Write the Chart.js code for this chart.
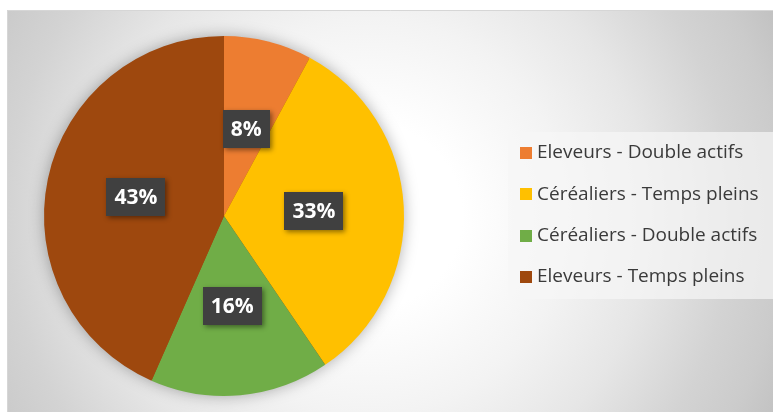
<!DOCTYPE html>
<html>
<head>
<meta charset="utf-8">
<script src="https://cdn.jsdelivr.net/npm/chart.js@4.4.1/dist/chart.umd.min.js"></script>
<style>
    html, body { margin: 0; padding: 0; background: #ffffff; }
    #wrap { width: 773px; height: 412px; }
</style>
</head>
<body>
<div id="wrap"><canvas id="pie-chart" width="773" height="412"></canvas></div>
<script>
// Chart data
const categories = ['Eleveurs - Double actifs', 'Céréaliers - Temps pleins', 'Céréaliers - Double actifs', 'Eleveurs - Temps pleins'];
const shares = [7.9, 32.6, 16.1, 43.4];
const sliceColors = ['#ED7D31', '#FFC000', '#70AD47', '#9E480E'];

document.addEventListener('DOMContentLoaded', function () {
    const canvas = document.getElementById('pie-chart');

    // Radial grey background of the plot, plus thin frame
    const backgroundPlugin = {
        id: 'backgroundFill',
        beforeDraw(chart) {
            const ctx = chart.ctx;
            ctx.save();
            const grad = ctx.createRadialGradient(370, 216, 0, 370, 216, 460);
            grad.addColorStop(0, '#ffffff');
            grad.addColorStop(0.2, '#ffffff');
            grad.addColorStop(0.43, '#f3f3f3');
            grad.addColorStop(0.61, '#e6e6e6');
            grad.addColorStop(0.79, '#d3d3d3');
            grad.addColorStop(0.9, '#cbcbcb');
            grad.addColorStop(1, '#c0c0c0');
            ctx.fillStyle = grad;
            ctx.fillRect(7, 10, 766, 402);
            ctx.strokeStyle = '#d6d6d6';
            ctx.lineWidth = 1;
            ctx.beginPath();
            ctx.moveTo(7.5, 412);
            ctx.lineTo(7.5, 10.5);
            ctx.lineTo(773, 10.5);
            ctx.stroke();
            ctx.restore();
        }
    };

    // Soft shadow under the whole pie
    const pieShadowPlugin = {
        id: 'pieShadow',
        beforeDatasetsDraw(chart) {
            const arc = chart.getDatasetMeta(0).data[0];
            if (!arc) return;
            const ctx = chart.ctx;
            ctx.save();
            ctx.shadowColor = 'rgba(0, 0, 0, 0.35)';
            ctx.shadowBlur = 16;
            ctx.fillStyle = '#9E480E';
            ctx.beginPath();
            ctx.arc(arc.x, arc.y, arc.outerRadius - 1, 0, Math.PI * 2);
            ctx.fill();
            ctx.restore();
        }
    };

    // Percent labels in dark boxes
    const percentLabelPlugin = {
        id: 'percentLabels',
        afterDatasetsDraw(chart) {
            const ctx = chart.ctx;
            const values = chart.data.datasets[0].data;
            const sum = values.reduce((a, b) => a + b, 0);
            ctx.save();
            ctx.font = 'bold 21px "Open Sans"';
            ctx.textAlign = 'center';
            ctx.textBaseline = 'middle';
            chart.getDatasetMeta(0).data.forEach((arc, i) => {
                const pos = arc.tooltipPosition();
                const text = Math.round(values[i] * 100 / sum) + '%';
                const w = ctx.measureText(text).width + 16;
                const h = 38;
                ctx.save();
                ctx.shadowColor = 'rgba(0, 0, 0, 0.45)';
                ctx.shadowBlur = 5;
                ctx.shadowOffsetX = 2;
                ctx.shadowOffsetY = 2;
                ctx.fillStyle = '#404040';
                ctx.fillRect(Math.round(pos.x - w / 2), Math.round(pos.y - h / 2), Math.round(w), h);
                ctx.restore();
                ctx.fillStyle = '#ffffff';
                ctx.fillText(text, pos.x, pos.y + 1);
            });
            ctx.restore();
        }
    };

    // Legend box on the right
    const legendPlugin = {
        id: 'sideLegend',
        afterDraw(chart) {
            const ctx = chart.ctx;
            const ds = chart.data.datasets[0];
            ctx.save();
            ctx.fillStyle = 'rgba(246, 246, 246, 0.7)';
            ctx.fillRect(508, 132, 265, 167);
            ctx.font = '19px "Open Sans"';
            ctx.textBaseline = 'middle';
            chart.data.labels.forEach((label, i) => {
                const y = 153 + i * 41.3;
                ctx.fillStyle = ds.backgroundColor[i];
                ctx.fillRect(520, Math.round(y - 6), 12, 12);
                ctx.fillStyle = '#3a3a3a';
                ctx.fillText(label, 537, y);
            });
            ctx.restore();
        }
    };

    new Chart(canvas, {
        type: 'pie',
        data: {
            labels: categories,
            datasets: [{
                data: shares,
                backgroundColor: sliceColors,
                borderWidth: 0,
                hoverOffset: 0,
                offset: 0
            }]
        },
        options: {
            responsive: false,
            animation: false,
            events: [],
            layout: {
                padding: { left: 44, top: 36, right: 369, bottom: 16 }
            },
            plugins: {
                legend: { display: false },
                tooltip: { enabled: false }
            }
        },
        plugins: [backgroundPlugin, pieShadowPlugin, percentLabelPlugin, legendPlugin]
    });
});
</script>
</body>
</html>
